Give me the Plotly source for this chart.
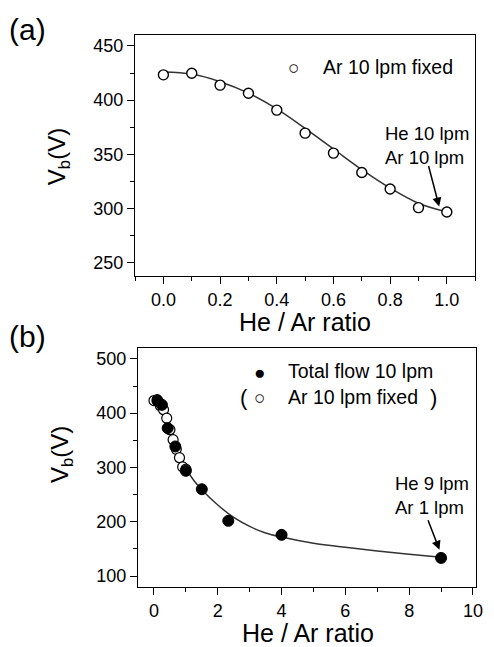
import plotly.graph_objects as go

# ---------------- data ----------------
# panel (a): Ar 10 lpm fixed
a_ratio = [0.0, 0.1, 0.2, 0.3, 0.4, 0.5, 0.6, 0.7, 0.8, 0.9, 1.0]
a_vb = [423.3, 424.8, 413.8, 406.4, 390.8, 369.6, 351.2, 333.4, 318.1, 301.0, 297.0]
a_fit_ratio = [0.0, 0.1, 0.2, 0.3, 0.4, 0.5, 0.6, 0.7, 0.8, 0.9, 1.0]
a_fit_vb = [426.0, 424.0, 417.0, 406.5, 392.0, 374.0, 355.0, 336.0, 319.0, 305.0, 297.0]

# panel (b): total flow 10 lpm
b_ratio = [0.11, 0.25, 0.43, 0.67, 1.0, 1.5, 2.33, 4.0, 9.0]
b_vb = [422.7, 415.3, 372.4, 338.7, 293.9, 260.0, 201.8, 176.0, 133.5]
b_fit_ratio = [0.1, 0.3, 0.5, 0.75, 1.0, 1.25, 1.5, 2.0, 2.5, 3.0, 3.5, 4.0, 5.0, 6.0, 7.0, 8.0, 9.0]
b_fit_vb = [428, 398, 368, 331, 299, 276, 259, 231, 208, 191.5, 179.5, 172, 160.5, 153, 146.5, 140.5, 135]

a_xticks = [0.0, 0.2, 0.4, 0.6, 0.8, 1.0]
a_yticks = [250, 300, 350, 400, 450]
b_xticks = [0, 2, 4, 6, 8, 10]
b_yticks = [100, 200, 300, 400, 500]

FONT = "Liberation Sans, Arial, sans-serif"
W, H = 494, 647
LINE = "#333333"

fig = go.Figure()

# (a)
fig.add_trace(go.Scatter(x=a_fit_ratio, y=a_fit_vb, mode="lines", line=dict(color=LINE, width=1.5, shape="spline"),
                         xaxis="x", yaxis="y", showlegend=False, hoverinfo="skip"))
fig.add_trace(go.Scatter(x=a_ratio, y=a_vb, mode="markers", xaxis="x", yaxis="y", showlegend=False,
                         marker=dict(symbol="circle", size=10, color="white", line=dict(color="black", width=1.4))))
# (b)
fig.add_trace(go.Scatter(x=b_fit_ratio, y=b_fit_vb, mode="lines", line=dict(color=LINE, width=1.5, shape="spline"),
                         xaxis="x2", yaxis="y2", showlegend=False, hoverinfo="skip"))
fig.add_trace(go.Scatter(x=a_ratio, y=a_vb, mode="markers", xaxis="x2", yaxis="y2", showlegend=False,
                         marker=dict(symbol="circle", size=10, color="white", line=dict(color="black", width=1.2))))
fig.add_trace(go.Scatter(x=b_ratio, y=b_vb, mode="markers", xaxis="x2", yaxis="y2", showlegend=False,
                         marker=dict(symbol="circle", size=11, color="black", line=dict(color="black", width=1))))


def px(x):
    return x / W


def py(y):
    return 1 - y / H


axis_common = dict(showline=True, linecolor="black", linewidth=1.3, mirror=True, ticks="outside",
                   ticklen=7, tickwidth=1.3, tickcolor="black", showgrid=False, zeroline=False,
                   tickfont=dict(family=FONT, size=18, color="black"))

fig.update_layout(
    width=W, height=H, margin=dict(l=0, r=0, t=0, b=0),
    paper_bgcolor="white", plot_bgcolor="white", showlegend=False,
    xaxis=dict(domain=[px(137), px(482)], range=[-0.1, 1.1], anchor="y", tickvals=a_xticks,
               tickformat=".1f", minor=dict(dtick=0.1, tick0=0, ticks="outside", ticklen=4, tickcolor="black"),
               **axis_common),
    yaxis=dict(domain=[py(276), py(35)], range=[238, 460], anchor="x", tickvals=a_yticks,
               minor=dict(dtick=25, tick0=0, ticks="outside", ticklen=4, tickcolor="black"), **axis_common),
    xaxis2=dict(domain=[px(140), px(483)], range=[-0.5, 10.1], anchor="y2", tickvals=b_xticks,
                minor=dict(dtick=1, tick0=0, ticks="outside", ticklen=4, tickcolor="black"), **axis_common),
    yaxis2=dict(domain=[py(587), py(348)], range=[80, 520], anchor="x2", tickvals=b_yticks,
                minor=dict(dtick=50, tick0=0, ticks="outside", ticklen=4, tickcolor="black"), **axis_common),
)

ann = []


def txt(x, y, s, size, xanchor="center", angle=0, align="left"):
    ann.append(dict(x=px(x), y=py(y), xref="paper", yref="paper", text=s, showarrow=False,
                    xanchor=xanchor, yanchor="middle", textangle=angle, align=align,
                    font=dict(family=FONT, size=size, color="black")))


# panel labels
txt(7, 29, "(a)", 30, xanchor="left")
txt(7, 337, "(b)", 30, xanchor="left")
# axis titles
txt(309, 322, "He / Ar ratio", 25)
txt(312, 633, "He / Ar ratio", 25)
txt(60, 157, "V<sub>b</sub>(V)", 24, angle=-90)
txt(62, 455, "V<sub>b</sub>(V)", 24, angle=-90)
# legend (a)
txt(298, 67, "○", 19)
txt(326, 67, "Ar 10 lpm fixed", 19.5, xanchor="left")
# legend (b)
txt(263, 372, "●", 19)
txt(290, 371, "Total flow 10 lpm", 19.5, xanchor="left")
txt(247, 397, "(", 22)
txt(263, 398, "○", 19)
txt(290, 397, "Ar 10 lpm fixed", 19.5, xanchor="left")
txt(440, 397, ")", 22)
# notes
txt(389, 145, "He 10 lpm<br>Ar 10 lpm", 18.5, xanchor="left")
txt(399, 496, "He 9 lpm<br>Ar 1 lpm", 18.5, xanchor="left")

# arrows pointing at end points
ann.append(dict(x=a_ratio[-1] - 0.027, y=a_vb[-1] + 5, xref="x", yref="y", ax=-11, ay=-42, text="",
                showarrow=True, arrowhead=2, arrowsize=1.2, arrowwidth=1.5, arrowcolor="black"))
ann.append(dict(x=b_ratio[-1] - 0.05, y=b_vb[-1] + 15, xref="x2", yref="y2", ax=-12, ay=-31, text="",
                showarrow=True, arrowhead=2, arrowsize=1.2, arrowwidth=1.5, arrowcolor="black"))

fig.update_layout(annotations=ann)
fig.write_html("out.html", config={"displayModeBar": False},
               post_script="document.body.style.margin='0px';document.body.style.overflow='hidden';")
